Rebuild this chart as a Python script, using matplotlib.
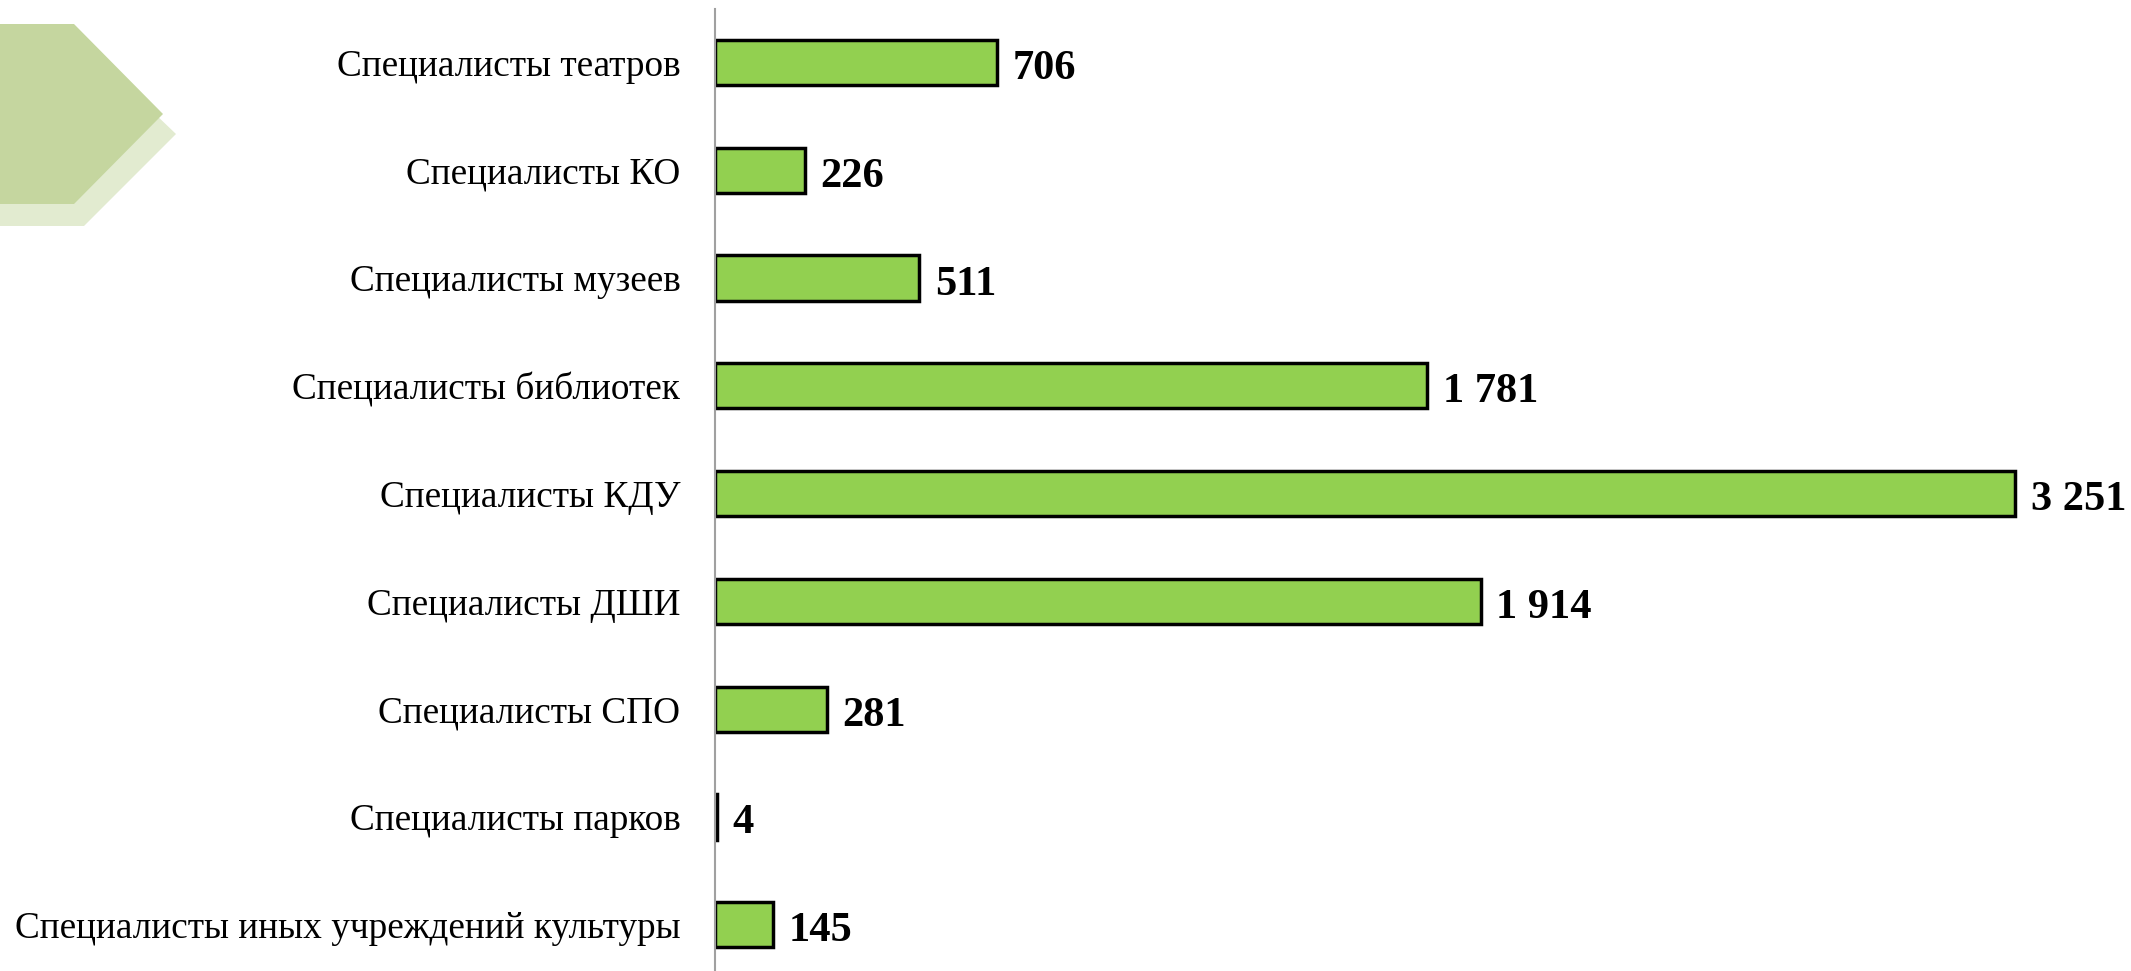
import matplotlib.pyplot as plt
from matplotlib.patches import Polygon

categories = [
    "Специалисты театров",
    "Специалисты КО",
    "Специалисты музеев",
    "Специалисты библиотек",
    "Специалисты КДУ",
    "Специалисты ДШИ",
    "Специалисты СПО",
    "Специалисты парков",
    "Специалисты иных учреждений культуры",
]
values = [706, 226, 511, 1781, 3251, 1914, 281, 4, 145]
value_labels = ["706", "226", "511", "1 781", "3 251", "1 914", "281", "4", "145"]

plt.rcParams['font.family'] = ['Liberation Serif', 'DejaVu Serif']

W, H = 2131, 971
fig = plt.figure(figsize=(W / 100, H / 100), dpi=100)

# decorative hexagon at top left (figure pixel coords)
deco = fig.add_axes([0, 0, 1, 1], zorder=0)
deco.set_xlim(0, W)
deco.set_ylim(H, 0)
deco.axis("off")
shadow = [(0, 46), (84, 46), (176, 134), (84, 226), (0, 226)]
front = [(0, 24), (74, 24), (163, 114), (74, 204), (0, 204)]
deco.add_patch(Polygon(shadow, closed=True, color="#E2EBD0", lw=0))
deco.add_patch(Polygon(front, closed=True, color="#C5D69F", lw=0))

ax = fig.add_axes([715 / W, 0, 1 - 715 / W, 1 - 9 / H], zorder=1)
ax.patch.set_alpha(0)
y = list(range(len(categories)))
ax.barh(y, values, height=0.42, color="#92D050", edgecolor="black", linewidth=2.5)
ax.set_ylim(8.43, -0.497)
ax.set_xlim(0, 3540)

for yi, v, lab in zip(y, values, value_labels):
    ax.annotate(lab, (v, yi), xytext=(11, -1.5), textcoords="offset points",
                ha="left", va="center_baseline", fontsize=30.5, fontweight="bold")

ax.set_yticks(y)
ax.set_yticklabels(categories, fontsize=26.8)
ax.tick_params(axis="y", length=0, pad=25)
ax.set_xticks([])
for s in ["top", "right", "bottom"]:
    ax.spines[s].set_visible(False)
ax.spines["left"].set_color("#A0A0A0")
ax.spines["left"].set_linewidth(1.5)

fig.savefig("out.png", dpi=100)
